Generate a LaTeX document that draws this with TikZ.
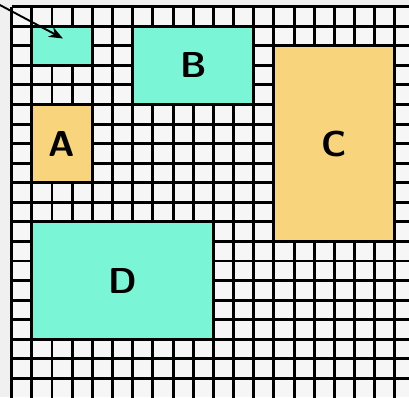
\documentclass[tikz,border=0pt]{standalone}
\usepackage{tikz}
\usetikzlibrary{arrows.meta,positioning}
\definecolor{paper}{RGB}{240,240,240}
\definecolor{cell}{RGB}{246,246,246}
\definecolor{mint}{RGB}{122,246,214}
\definecolor{sand}{RGB}{248,212,124}
\tikzset{gridline/.style={draw=black, line width=2.9pt},
  region/.style={draw=black, line width=2.9pt, inner sep=0pt, outer sep=0pt,
    anchor=north west, font=\fontsize{36}{36}\selectfont\sffamily\bfseries},
  mintbox/.style={region, fill=mint},
  sandbox/.style={region, fill=sand}}
% grid origin and cell size (in px)
\def\ox{11.7}
\def\oy{6.7}
\def\cw{20.17}
\def\rh{19.56}
\begin{document}
\begin{tikzpicture}[x=1pt, y=-1pt, >=Stealth]

    \useasboundingbox (0,0) rectangle (409,397);
    \fill[paper] (0,0) rectangle (409,397);
    \fill[cell] (\ox,\oy) rectangle (409,397);

    % Grid
    \foreach \i in {0,...,19} {
        \draw[gridline] ({\ox+\cw*\i},\oy) -- ({\ox+\cw*\i},398);
    }
    \foreach \j in {0,...,19} {
        \draw[gridline] (\ox,{\oy+\rh*\j}) -- (410,{\oy+\rh*\j});
    }

    % Regions
    \node[mintbox, minimum width=3*\cw pt, minimum height=2*\rh pt] (small) at ({\ox+\cw},{\oy+\rh}) {};
    \node[mintbox, minimum width=6*\cw pt, minimum height=4*\rh pt] (B) at ({\ox+\cw*6},{\oy+\rh}) {B};
    \node[sandbox, minimum width=3*\cw pt, minimum height=4*\rh pt] (A) at ({\ox+\cw},{\oy+\rh*5}) {A};
    \node[sandbox, minimum width=6*\cw pt, minimum height=10*\rh pt] (C) at ({\ox+\cw*13},{\oy+\rh*2}) {C};
    \node[mintbox, minimum width=9*\cw pt, minimum height=6*\rh pt] (D) at ({\ox+\cw},{\oy+\rh*11}) {D};

    % Pointer into the small region
    \coordinate (start) at (-2,4);
    \coordinate (tip) at (63,38.5);
    \draw[-{Stealth[length=14pt,width=11pt]}, line width=1.9pt] (start) -- (tip);

\end{tikzpicture}
\end{document}
